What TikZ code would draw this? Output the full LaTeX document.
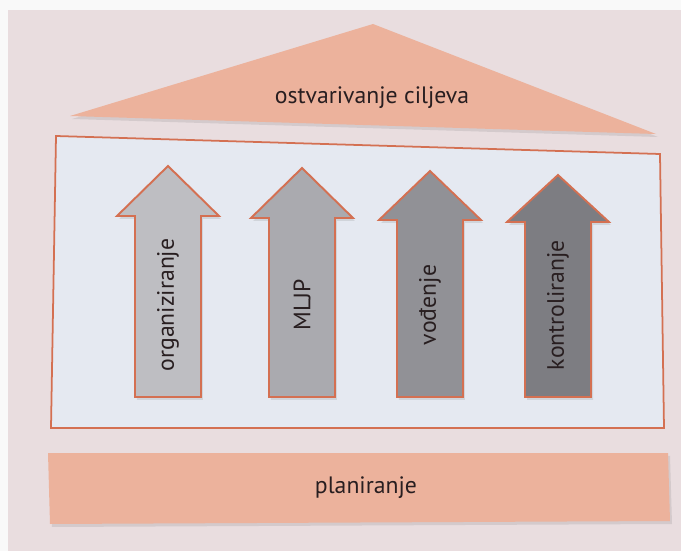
\documentclass[tikz,border=0pt]{standalone}
\usepackage{fontspec}
\setmainfont{PT Sans}
\usepackage{tikz}
\usetikzlibrary{shadows}
\definecolor{pagebg}{RGB}{233,221,223}
\definecolor{boxbg}{RGB}{229,233,241}
\definecolor{salmon}{RGB}{236,178,156}
\definecolor{rimline}{RGB}{212,112,82}
\definecolor{inktext}{RGB}{40,30,32}
\definecolor{grayA}{RGB}{190,190,194}
\definecolor{grayB}{RGB}{170,170,175}
\definecolor{grayC}{RGB}{145,145,150}
\definecolor{grayD}{RGB}{125,125,130}
\tikzstyle{roofshape}=[fill=salmon, drop shadow={shadow xshift=0.4mm, shadow yshift=-0.6mm, opacity=0.2}]
\tikzstyle{baseshape}=[fill=salmon, drop shadow={shadow xshift=0.4mm, shadow yshift=-0.6mm, opacity=0.2}]
\tikzstyle{frameshape}=[fill=boxbg, draw=rimline, line width=1pt]
\tikzstyle{arrowshape}=[draw=rimline, line width=1.1pt, line join=miter, drop shadow={shadow xshift=0.4mm, shadow yshift=-0.6mm, opacity=0.2}]
\tikzstyle{textlabel}=[text=inktext, font=\fontsize{13.5}{16}\selectfont, inner sep=0pt]
\tikzstyle{arrowlabel}=[textlabel, rotate=90]
% #1 name, #2 x of shaft centre, #3 fill, #4 text, #5 y of tip, #6 y of head base
\newcommand{\uparrowshape}[6]{
 \path[arrowshape, fill=#3] (#2-33,397) -- (#2-33,#6) -- (#2-51,#6) -- (#2,#5)
   -- (#2+51,#6) -- (#2+33,#6) -- (#2+33,397) -- cycle;
 \node[arrowlabel] (#1) at (#2,305) {#4};}

\begin{document}
\begin{tikzpicture}[x=0.02cm, y=-0.02cm]

\useasboundingbox (0,0) rectangle (681,551);
\fill[white!95!gray] (0,0) rectangle (681,551);
\fill[pagebg] (8,10) rectangle (681,551);

% roof
\path[roofshape] (70,116) -- (373,24) -- (656,134) -- cycle;
\node[textlabel] (goal) at (372,98) {ostvarivanje ciljeva};

% frame with the four functions
\path[frameshape] (56,136) -- (660,154) -- (664,428) -- (51,428) -- cycle;

\uparrowshape{org}{168}{grayA}{organiziranje}{166}{216}
\uparrowshape{mljp}{302}{grayB}{MLJP}{168}{218}
\uparrowshape{lead}{430}{grayC}{vođenje}{171}{220}
\uparrowshape{ctrl}{558}{grayD}{kontroliranje}{175}{222}

% foundation
\path[baseshape] (48,453) -- (668,453) -- (670,521) -- (50,524) -- cycle;
\node[textlabel] (plan) at (366,488) {planiranje};

\end{tikzpicture}
\end{document}
